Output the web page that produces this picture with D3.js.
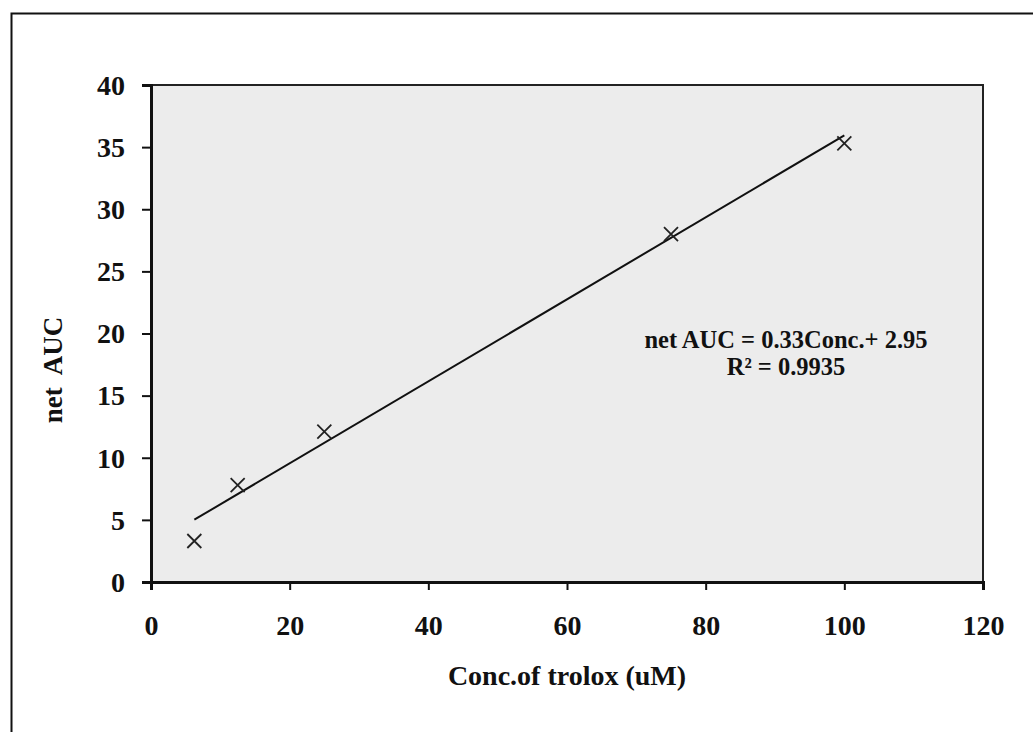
<!DOCTYPE html>
<html>
<head>
<meta charset="utf-8">
<script src="https://cdn.jsdelivr.net/npm/d3@7"></script>
<style>
html,body{margin:0;padding:0;background:#fff;}
svg{display:block;}
text{font-family:"Liberation Serif","Times New Roman",serif;font-weight:bold;fill:#111;}
</style>
</head>
<body>
<svg id="chart" width="1033" height="732"></svg>
<script>
// Data
const concentrations = [6.25, 12.5, 25, 75, 100];
const netAUC = [3.3, 7.8, 12.1, 28.0, 35.3];
const xTicks = [0, 20, 40, 60, 80, 100, 120];
const yTicks = [0, 5, 10, 15, 20, 25, 30, 35, 40];
const trendSlope = 0.33;
const trendIntercept = 2.95;
const equationLines = ["net AUC = 0.33Conc.+ 2.95", "R² = 0.9935"];
const xTitle = "Conc.of trolox (uM)";
const yTitle = "net  AUC";

const svg = d3.select("#chart");
const m = {left: 151, top: 85, right: 983, bottom: 582};

// outer frame (extends past the right/bottom edges)
svg.append("rect").attr("x", 11.5).attr("y", 13.5).attr("width", 1040).attr("height", 740)
  .attr("fill", "#fff").attr("stroke", "#111").attr("stroke-width", 2);

const x = d3.scaleLinear().domain([0, 120]).range([m.left, m.right]);
const y = d3.scaleLinear().domain([0, 40]).range([m.bottom, m.top]);

// plot area
svg.append("rect").attr("x", m.left).attr("y", m.top)
  .attr("width", m.right - m.left).attr("height", m.bottom - m.top)
  .attr("fill", "#ececec").attr("stroke", "#222").attr("stroke-width", 2);

// axes
const xAxis = svg.append("g").attr("transform", `translate(0,${m.bottom})`)
  .call(d3.axisBottom(x).tickValues(xTicks).tickSize(8).tickPadding(25).tickFormat(d3.format("d")));
const yAxis = svg.append("g").attr("transform", `translate(${m.left},0)`)
  .call(d3.axisLeft(y).tickValues(yTicks).tickSize(9).tickPadding(17).tickFormat(d3.format("d")));
[xAxis, yAxis].forEach(g => {
  g.select(".domain").attr("stroke", "#111").attr("stroke-width", 3);
  g.selectAll(".tick line").attr("stroke", "#111").attr("stroke-width", 2);
  g.selectAll(".tick text").attr("font-size", 28)
    .style("font-family", '"Liberation Serif","Times New Roman",serif').style("font-weight", "bold").attr("fill", "#111");
});
yAxis.selectAll(".tick text").attr("dy", "0.33em");

// trend line
const xMin = d3.min(concentrations), xMax = d3.max(concentrations);
svg.append("line")
  .attr("x1", x(xMin)).attr("y1", y(trendSlope * xMin + trendIntercept))
  .attr("x2", x(xMax)).attr("y2", y(trendSlope * xMax + trendIntercept))
  .attr("stroke", "#111").attr("stroke-width", 2);

// markers (x shape)
const pts = concentrations.map((c, i) => ({c, v: netAUC[i]}));
const s = 7;
svg.append("g").selectAll("path").data(pts).join("path")
  .attr("d", d => `M${x(d.c)-s},${y(d.v)-s}L${x(d.c)+s},${y(d.v)+s}M${x(d.c)-s},${y(d.v)+s}L${x(d.c)+s},${y(d.v)-s}`)
  .attr("stroke", "#222").attr("stroke-width", 1.8).attr("fill", "none");

// equation
svg.append("g").selectAll("text").data(equationLines).join("text")
  .attr("x", 786).attr("y", (d, i) => 348 + i * 27)
  .attr("text-anchor", "middle").attr("font-size", 24.5).text(d => d);

// axis titles
svg.append("text").attr("x", (m.left + m.right) / 2).attr("y", 685)
  .attr("text-anchor", "middle").attr("font-size", 28).text(xTitle);
svg.append("text").attr("transform", `translate(62,${370}) rotate(-90)`)
  .attr("text-anchor", "middle").attr("font-size", 27)
  .style("white-space", "pre").text(yTitle);
</script>
</body>
</html>
